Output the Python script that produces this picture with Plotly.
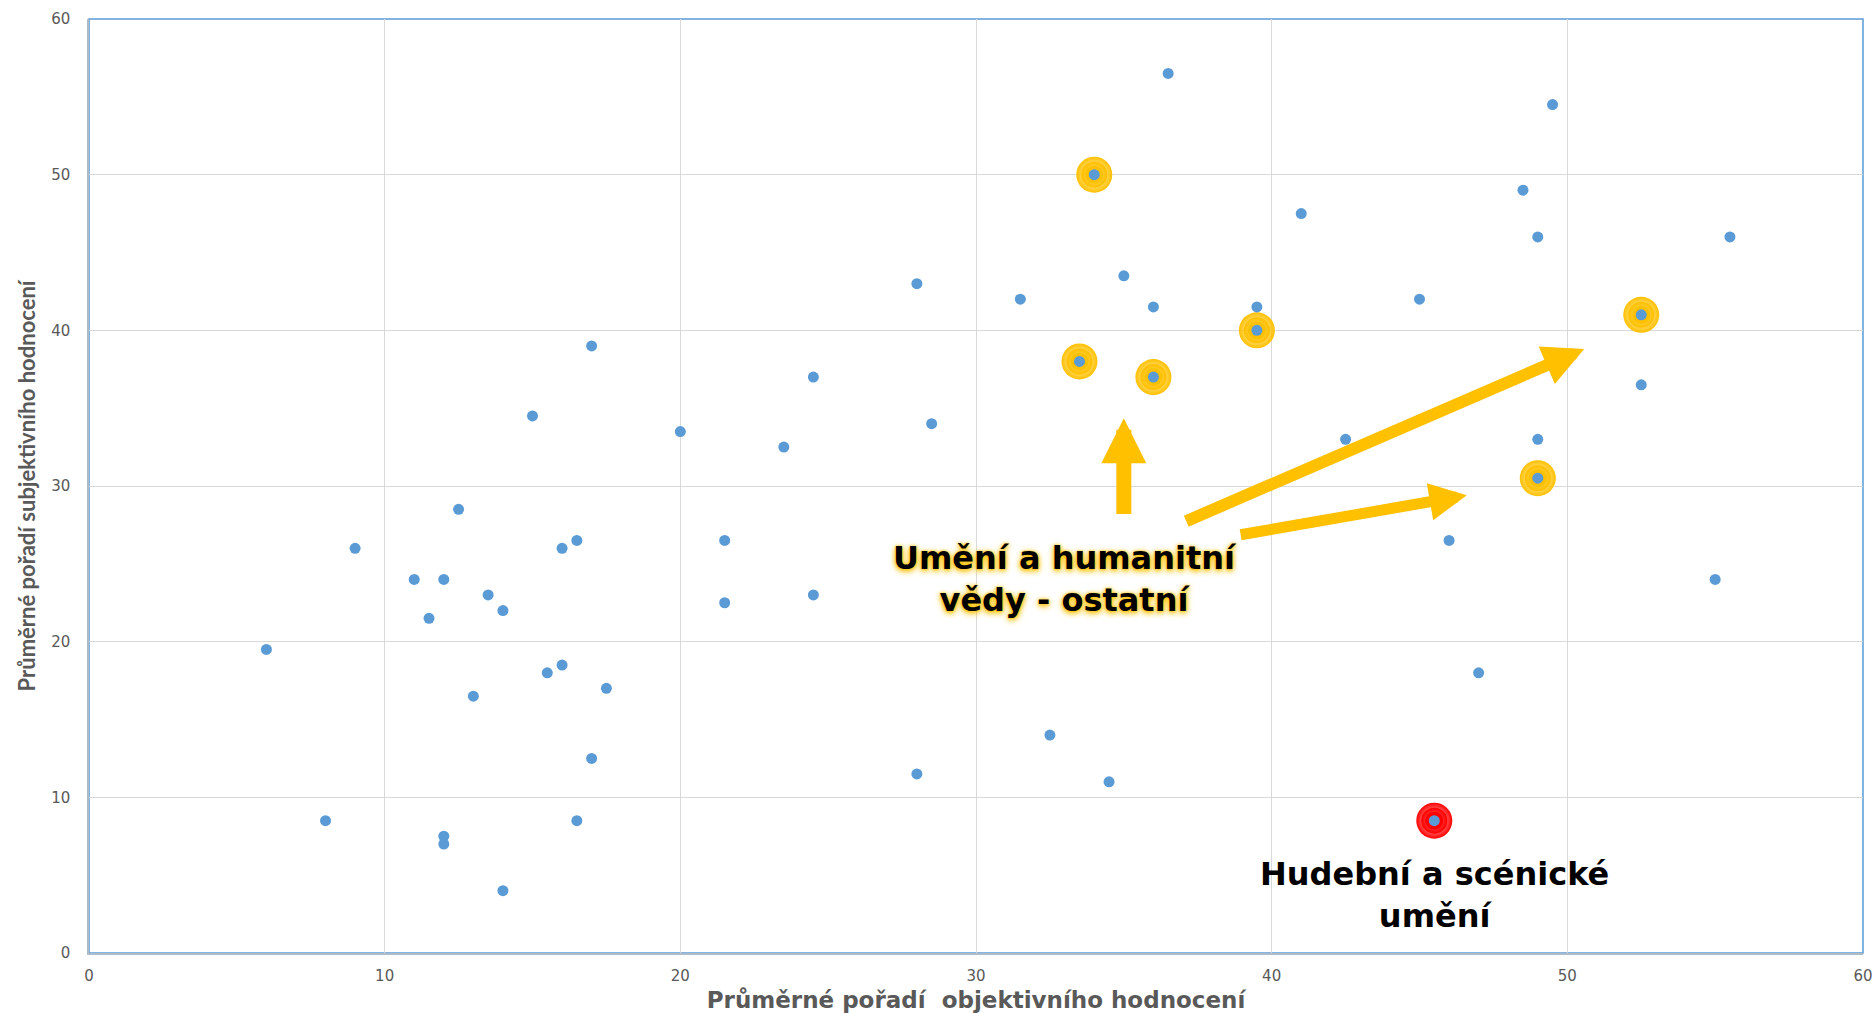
import plotly.graph_objects as go

# ---- data ----
x_vals = [6.0, 8.0, 9.0, 11.0, 11.5, 12.0, 12.5, 12.0, 12.0, 13.0, 13.5, 14.0, 14.0,
          15.0, 15.5, 16.0, 16.0, 16.5, 16.5, 17.0, 17.0, 17.5, 20.0, 21.5, 21.5,
          23.5, 24.5, 24.5, 28.0, 28.0, 28.5, 31.5, 32.5, 33.5, 34.0, 34.5, 35.0,
          36.0, 36.0, 36.5, 39.5, 39.5, 41.0, 42.5, 45.0, 45.5, 46.0, 47.0, 48.5,
          49.0, 49.0, 49.0, 49.5, 52.5, 52.5, 55.0, 55.5]
y_vals = [19.5, 8.5, 26.0, 24.0, 21.5, 24.0, 28.5, 7.5, 7.0, 16.5, 23.0, 22.0, 4.0,
          34.5, 18.0, 26.0, 18.5, 26.5, 8.5, 39.0, 12.5, 17.0, 33.5, 26.5, 22.5,
          32.5, 37.0, 23.0, 43.0, 11.5, 34.0, 42.0, 14.0, 38.0, 50.0, 11.0, 43.5,
          41.5, 37.0, 56.5, 41.5, 40.0, 47.5, 33.0, 42.0, 8.5, 26.5, 18.0, 49.0,
          46.0, 33.0, 30.5, 54.5, 41.0, 36.5, 24.0, 46.0]

# highlighted: "Umění a humanitní vědy - ostatní"
gold_x = [33.5, 34.0, 36.0, 39.5, 49.0, 52.5]
gold_y = [38.0, 50.0, 37.0, 40.0, 30.5, 41.0]
# highlighted: "Hudební a scénické umění"
red_x = [45.5]
red_y = [8.5]

# arrows: (tail_x, tail_y, tip_x, tip_y)
arrow_tail_x = [35.0, 37.06, 38.9]
arrow_tail_y = [28.1, 27.7, 26.85]
arrow_tip_x = [35.0, 50.57, 46.6]
arrow_tip_y = [34.36, 38.8, 29.4]
arrow_widths = [15, 12, 11]

x_ticks = [0, 10, 20, 30, 40, 50, 60]
y_ticks = [0, 10, 20, 30, 40, 50, 60]

x_title = "Průměrné pořadí  objektivního hodnocení"
y_title = "Průměrné pořadí subjektivního hodnocení"
label_gold = "Umění a humanitní<br>vědy - ostatní"
label_red = "Hudební a scénické<br>umění"

BLUE = "#5B9BD5"
GOLD = "#FFC000"
RED = "#FF0000"
GREY = "#595959"

fig = go.Figure()


def glow(xs, ys, color, rgba0):
    for s in [36, 26]:
        fig.add_trace(go.Scatter(
            x=xs, y=ys, mode="markers", hoverinfo="skip", showlegend=False,
            marker=dict(size=s, color=color, line=dict(width=0),
                        gradient=dict(type="radial", color=rgba0))))
    fig.add_trace(go.Scatter(
        x=xs, y=ys, mode="markers", hoverinfo="skip", showlegend=False,
        marker=dict(size=18, color=color, line=dict(width=0))))


glow(gold_x, gold_y, GOLD, "rgba(255,192,0,0)")
glow(red_x, red_y, RED, "rgba(255,0,0,0)")

fig.add_trace(go.Scatter(
    x=x_vals, y=y_vals, mode="markers", showlegend=False, hoverinfo="skip",
    marker=dict(size=11, color=BLUE, line=dict(width=0))))

for tx, ty, hx, hy, w in zip(arrow_tail_x, arrow_tail_y, arrow_tip_x, arrow_tip_y,
                            arrow_widths):
    fig.add_annotation(x=hx, y=hy, ax=tx, ay=ty, xref="x", yref="y",
                       axref="x", ayref="y", text="", showarrow=True,
                       arrowhead=2, arrowsize=0.6 if w == 15 else 0.68,
                       arrowwidth=w, arrowcolor=GOLD, standoff=0, startstandoff=0)

fig.add_annotation(x=33.0, y=24.0, xref="x", yref="y", text=label_gold,
                   showarrow=False, align="center",
                   font=dict(family="DejaVu Sans", size=32, color="black",
                             weight="bold",
                             shadow="0px 2px 7px #FFC000, 0px 1px 4px #FFC000, 0px 0px 2px #FFD966"))
fig.add_annotation(x=45.5, y=3.7, xref="x", yref="y", text=label_red,
                   showarrow=False, align="center",
                   font=dict(family="DejaVu Sans", size=32, color="black",
                             weight="bold"))

fig.add_shape(type="rect", xref="paper", yref="paper", x0=0, y0=0, x1=1, y1=1,
              line=dict(color=BLUE, width=1.5), layer="below")

fig.update_xaxes(range=[0, 60], tickvals=x_ticks, showgrid=True,
                 gridcolor="#D9D9D9", gridwidth=1, zeroline=False,
                 showline=True, linecolor="#AEBBC9", linewidth=1.5,
                 ticks="", ticklabelstandoff=8,
                 tickfont=dict(family="DejaVu Sans", size=15, color=GREY),
                 title=dict(text=x_title, standoff=10,
                            font=dict(family="DejaVu Sans", size=23, color=GREY,
                                      weight="bold")))
fig.update_yaxes(range=[0, 60], tickvals=y_ticks, showgrid=True,
                 gridcolor="#D9D9D9", gridwidth=1, zeroline=False,
                 showline=True, linecolor="#AEBBC9", linewidth=1.5,
                 ticks="", ticklabelstandoff=14,
                 tickfont=dict(family="DejaVu Sans", size=15, color=GREY),
                 title=dict(text=y_title, standoff=9,
                            font=dict(family="Lato", size=22, color=GREY,
                                      weight="bold")))

fig.update_layout(width=1873, height=1013,
                  margin=dict(l=89, r=10, t=19, b=60, autoexpand=False),
                  paper_bgcolor="white", plot_bgcolor="white",
                  showlegend=False)

fig.write_html("out.html", config={"displayModeBar": False},
               post_script="document.body.style.margin='0';")
